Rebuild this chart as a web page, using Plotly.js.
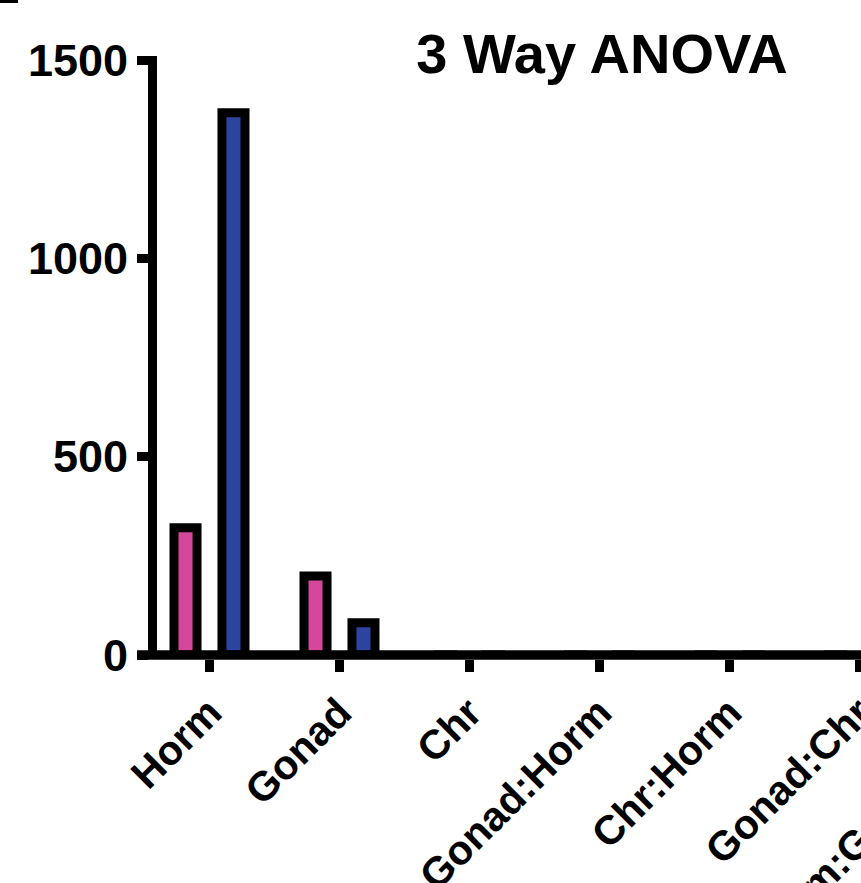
<!DOCTYPE html>
<html>
<head>
<meta charset="utf-8">
<script src="https://cdn.plot.ly/plotly-3.0.1.min.js"></script>
<style>
html, body { margin: 0; padding: 0; overflow: hidden; background: #fff; }
#chart { width: 1100px; height: 883px; }
</style>
</head>
<body>
<div id="chart"></div>
<script>
// ---- data ----
const categories = ['Horm', 'Gonad', 'Chr', 'Gonad:Horm', 'Chr:Horm', 'Gonad:Chr', 'Horm:Gonad:Chr'];
const seriesPink = [321, 199, 0, 0, 0, 0, 0];
const seriesBlue = [1367, 81, 0, 0, 0, 0, 0];
const yTickVals = [0, 500, 1000, 1500];
const titleText = '3 Way ANOVA';

// ---- layout geometry ----
const W = 1100, H = 883;
const mL = 157, mR = 0, mT = 56, mB = 224;
const plotW = W - mL - mR, plotH = H - mT - mB;
const pxPerUnit = 595 / 1500;
const yMin = -4 / pxPerUnit;
const yMax = yMin + plotH / pxPerUnit;
const catPx = 130;
const xMin = -52.5 / catPx;
const xMax = xMin + plotW / catPx;
const zeroPaperY = (0 - yMin) / (yMax - yMin);

const font = 'Liberation Sans, Arial, Helvetica, sans-serif';
const outline = { color: '#000', width: 9 };

const traces = [
  { type: 'bar', x: categories, y: seriesPink, name: 'Pink',
    marker: { color: '#d4479a', line: outline }, showlegend: false, hoverinfo: 'x+y' },
  { type: 'bar', x: categories, y: seriesBlue, name: 'Blue',
    marker: { color: '#2c44a0', line: outline }, showlegend: false, hoverinfo: 'x+y' }
];

const layout = {
  width: W, height: H,
  margin: { l: mL, r: mR, t: mT, b: mB, pad: 0 },
  paper_bgcolor: '#fff', plot_bgcolor: '#fff',
  barmode: 'group', bargap: 0.262, bargroupgap: 0.52,
  title: {
    text: '<b>' + titleText + '</b>',
    font: { family: font, size: 56, color: '#000' },
    xref: 'container', x: 602 / W, xanchor: 'center',
    yref: 'container', y: 1 - 53 / H, yanchor: 'middle'
  },
  xaxis: {
    type: 'category', range: [xMin, xMax],
    showline: false, showgrid: false, zeroline: false,
    ticks: 'outside', ticklen: 12, tickwidth: 9, tickcolor: '#000',
    tickangle: -45,
    tickfont: { family: font, size: 41, color: '#000', weight: 'bold' }
  },
  yaxis: {
    range: [yMin, yMax],
    tickvals: yTickVals, ticktext: yTickVals.map(String),
    showline: true, linewidth: 9, linecolor: '#000',
    showgrid: false, zeroline: false,
    ticks: 'outside', ticklen: 11, tickwidth: 9, tickcolor: '#000',
    tickfont: { family: font, size: 45, color: '#000', weight: 'bold' }
  },
  shapes: [
    { type: 'line', xref: 'paper', yref: 'paper', layer: 'above',
      x0: (137 - mL) / plotW, x1: 1, y0: zeroPaperY, y1: zeroPaperY,
      line: { color: '#000', width: 9.5 } },
    { type: 'rect', xref: 'paper', yref: 'paper', layer: 'above',
      x0: (0 - mL) / plotW, x1: (18 - mL) / plotW,
      y0: 1 + (mT - 0) / plotH, y1: 1 + (mT - 3) / plotH,
      fillcolor: '#000', line: { width: 0 } }
  ]
};

Plotly.newPlot('chart', traces, layout, { displayModeBar: false, staticPlot: true });
</script>
</body>
</html>
